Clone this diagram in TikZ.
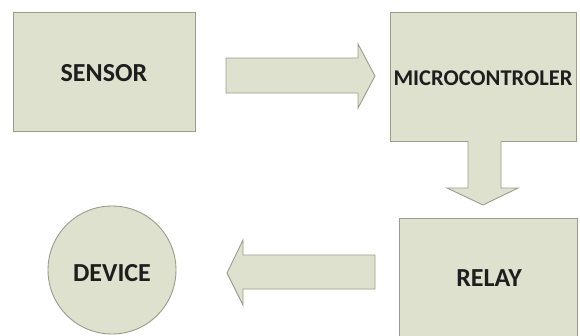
\documentclass[tikz,border=0pt]{standalone}
\usepackage{fontspec}
\setmainfont{Carlito}
\begin{document}
\begin{tikzpicture}[x=1pt,y=-1pt,
  blk/.style={draw=boxline,fill=boxfill,line width=0.9pt},
  lbl/.style={font=\bfseries\fontsize{26}{30}\selectfont,text=txt},
  barrow/.style={draw=boxline,fill=boxfill,line width=0.9pt,line join=miter}]
\definecolor{boxfill}{HTML}{DDE1CE}
\definecolor{boxline}{HTML}{9A9D8C}
\definecolor{txt}{HTML}{1E1E1E}
\useasboundingbox (0,0) rectangle (580,335);
% boxes
\draw[blk] (13,12) rectangle (195,131);
\node[lbl] (sensor) at (104,73) {SENSOR};
\draw[blk] (390,12) rectangle (576,141);
\node[lbl,font=\bfseries\fontsize{22.5}{26}\selectfont] (micro) at (483,78) {MICROCONTROLER};
\draw[blk] (399,218) rectangle (577,340);
\node[lbl] (relay) at (489,278) {RELAY};
\draw[blk] (112,270) circle[radius=64];
\node[lbl] (device) at (112,273) {DEVICE};
% block arrows
\draw[barrow] (226,58) -- (358,58) -- (358,44) -- (375,76) -- (358,108) -- (358,93) -- (226,93) -- cycle;
\draw[barrow] (468,141) -- (468,188) -- (447,188) -- (483,205) -- (518,188) -- (501,188) -- (501,141);
\draw[barrow] (375,255) -- (243,255) -- (243,240) -- (227,273) -- (243,305) -- (243,289) -- (375,289) -- cycle;
\end{tikzpicture}
\end{document}
